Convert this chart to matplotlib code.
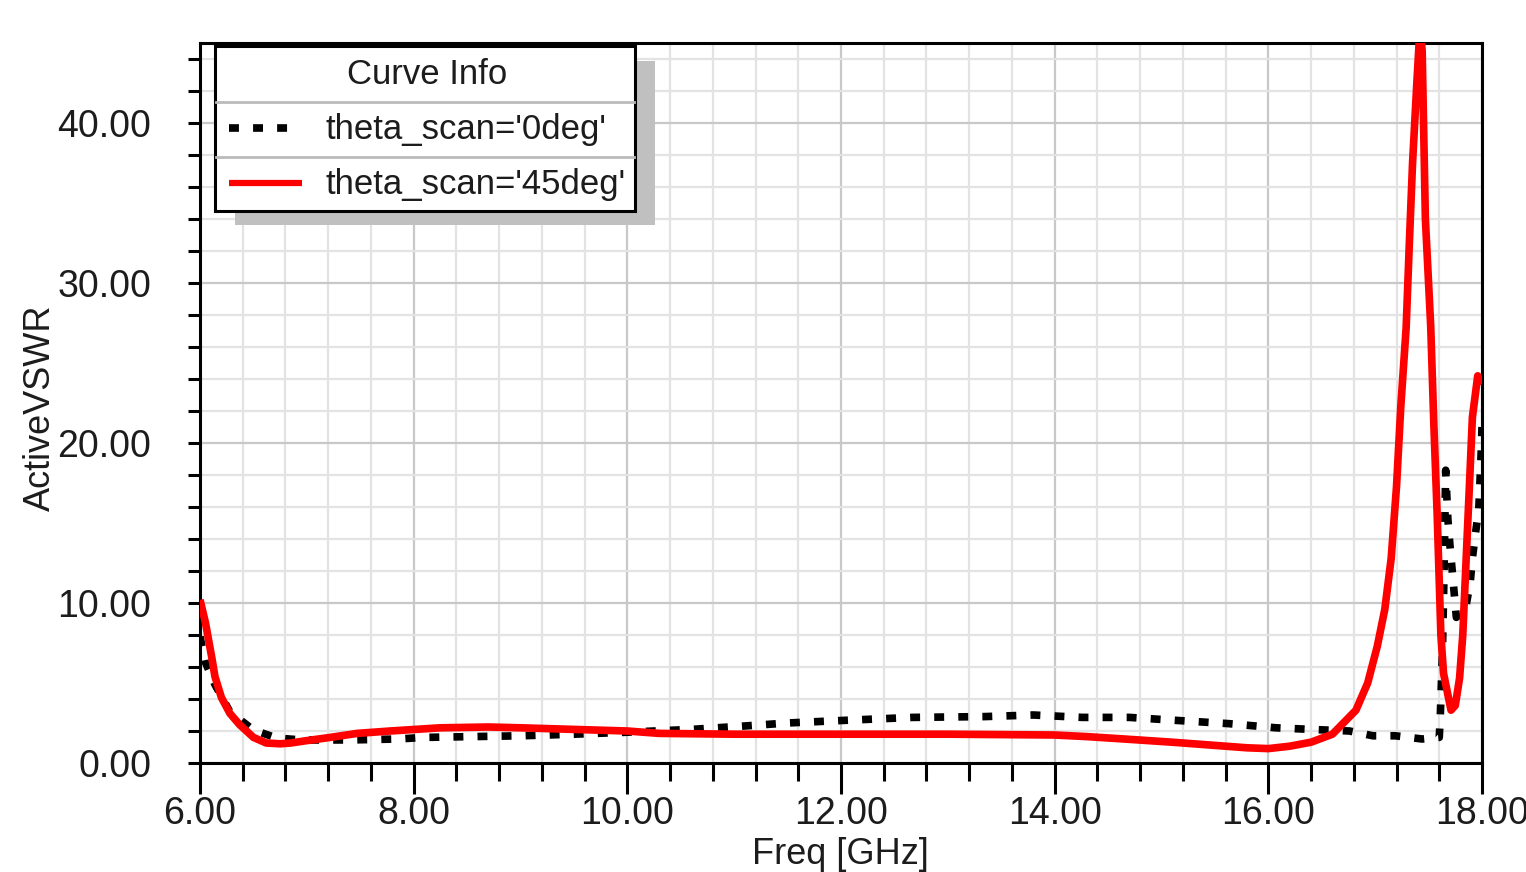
import matplotlib
matplotlib.use("Agg")
import matplotlib.pyplot as plt
from matplotlib.patches import Rectangle
from matplotlib.lines import Line2D
from matplotlib.ticker import MultipleLocator, FormatStrFormatter

plt.rcParams['font.family'] = ['Liberation Sans', 'DejaVu Sans']

# ---------------- data ----------------
freq_0deg = [6.0, 6.05, 6.14, 6.28, 6.5, 6.72, 6.95, 7.4, 7.85, 8.1, 8.55, 9.0, 9.5,
             9.91, 10.6, 11.07, 11.5, 11.98, 12.67, 13.34, 13.8, 14.26, 14.7, 15.17,
             15.63, 16.07, 16.4, 16.76, 16.98, 17.19, 17.44, 17.6, 17.61, 17.63,
             17.645, 17.66, 17.68, 17.70, 17.72, 17.74, 17.76, 17.85, 17.89, 17.91,
             17.94, 17.97, 17.99, 18.0]
vswr_0deg = [7.9, 6.3, 4.9, 3.2, 2.06, 1.56, 1.44, 1.44, 1.5, 1.6, 1.65, 1.7, 1.8,
             1.9, 2.1, 2.3, 2.5, 2.65, 2.85, 2.9, 3.0, 2.85, 2.85, 2.65,
             2.46, 2.2, 2.1, 2.0, 1.7, 1.7, 1.5, 1.6, 3.0, 7.0,
             12.0, 18.3, 15.3, 13.6, 12.1, 10.6, 9.1, 9.8, 11.3, 12.8,
             14.4, 15.9, 19.0, 21.0]

freq_45deg = [6.0, 6.05, 6.08, 6.11, 6.14, 6.2, 6.28, 6.37, 6.5, 6.62, 6.75, 6.85,
              7.0, 7.22, 7.47, 7.78, 8.25, 8.7, 9.0, 9.5, 10.0, 10.3, 11.0, 12.0,
              13.0, 14.0, 14.3, 14.65, 15.1, 15.5, 15.8, 16.0, 16.2, 16.4, 16.6,
              16.82, 16.93, 17.02, 17.09, 17.15, 17.2, 17.24, 17.29, 17.32, 17.35,
              17.39, 17.42, 17.44, 17.45, 17.47, 17.52, 17.55, 17.58, 17.6, 17.615,
              17.64, 17.71, 17.75, 17.79, 17.82, 17.85, 17.88, 17.91, 17.96, 18.0]
vswr_45deg = [10.2, 8.8, 7.7, 6.6, 5.4, 4.1, 3.1, 2.4, 1.6, 1.25, 1.2, 1.25,
              1.4, 1.6, 1.85, 2.0, 2.2, 2.25, 2.2, 2.1, 2.0, 1.85, 1.8, 1.8,
              1.8, 1.75, 1.65, 1.5, 1.3, 1.1, 0.95, 0.9, 1.05, 1.3, 1.8,
              3.3, 5.0, 7.3, 9.6, 12.8, 17.3, 22.3, 27.2, 32.5, 37.5,
              42.5, 46.0, 44.5, 41.0, 34.0, 27.3, 21.0, 15.6, 11.3, 8.0,
              5.6, 3.3, 3.6, 5.3, 8.0, 12.5, 17.0, 21.6, 24.2, 23.7]

series_labels = ["theta_scan='0deg'", "theta_scan='45deg'"]
x_label = "Freq [GHz]"
y_label = "ActiveVSWR"
legend_title = "Curve Info"

# ---------------- figure ----------------
W, H = 1526, 872
fig = plt.figure(figsize=(W / 100, H / 100), dpi=100)
fig.patch.set_facecolor('white')

def fx(px):
    return px / W

def fy(py):
    return 1 - py / H

ax = fig.add_axes([fx(200), fy(763), fx(1482) - fx(200), fy(43) - fy(763)])
ax.set_xlim(6, 18)
ax.set_ylim(0, 45)

ax.xaxis.set_major_locator(MultipleLocator(2))
ax.xaxis.set_minor_locator(MultipleLocator(0.4))
ax.yaxis.set_major_locator(MultipleLocator(10))
ax.yaxis.set_minor_locator(MultipleLocator(2))
ax.xaxis.set_major_formatter(FormatStrFormatter('%.2f'))
ax.yaxis.set_major_formatter(FormatStrFormatter('%.2f'))

ax.grid(which='major', color='#c8c8c8', linewidth=1.6, zorder=0)
ax.grid(which='minor', color='#e3e3e3', linewidth=1.6, zorder=0)
ax.set_axisbelow(True)

for s in ax.spines.values():
    s.set_linewidth(2.2)
    s.set_color('black')

txt_color = '#1c1c1c'
ax.tick_params(axis='x', which='major', length=22, width=2.2, direction='out',
               pad=2, labelsize=27, labelcolor=txt_color)
ax.tick_params(axis='x', which='minor', length=13, width=2.2, direction='out')
ax.tick_params(axis='y', which='both', length=9, width=2.2, direction='out')
ax.tick_params(axis='y', which='major', pad=26, labelsize=27, labelcolor=txt_color)

lw = 5.5
ax.plot(freq_0deg, vswr_0deg, color='black', linewidth=lw,
        linestyle=(0, (1.3, 1.85)), dash_capstyle='butt', zorder=3,
        solid_joinstyle='miter')
ax.plot(freq_45deg, vswr_45deg, color='#ff0000', linewidth=lw,
        solid_capstyle='butt', zorder=4)

fig.text(fx(40), fy(408), y_label, rotation=90, ha='center', va='center',
         fontsize=26, color=txt_color)
fig.text(fx(840), fy(864), x_label, ha='center', va='baseline',
         fontsize=26, color=txt_color)

# ---------------- legend (drawn manually, HFSS style) ----------------
shadow = Rectangle((fx(235), fy(225)), fx(655) - fx(235), fy(61) - fy(225),
                   transform=fig.transFigure, facecolor='#c0c0c0',
                   edgecolor='none', zorder=10)
box = Rectangle((fx(215), fy(211)), fx(635) - fx(215), fy(46) - fy(211),
                transform=fig.transFigure, facecolor='white',
                edgecolor='black', linewidth=2.2, zorder=11)
fig.add_artist(shadow)
fig.add_artist(box)
for yy in (102, 157):
    fig.add_artist(Line2D([fx(216), fx(634)], [fy(yy), fy(yy)],
                          transform=fig.transFigure, color='#bbbbbb',
                          linewidth=2.0, zorder=12))
fig.text(fx(427), fy(74), legend_title, ha='center', va='center',
         fontsize=25, color=txt_color, zorder=13)
fig.add_artist(Line2D([fx(229), fx(301)], [fy(128), fy(128)],
                      transform=fig.transFigure, color='black', linewidth=lw,
                      linestyle=(0, (1.3, 1.85)), dash_capstyle='butt', zorder=13))
fig.add_artist(Line2D([fx(229), fx(302)], [fy(183), fy(183)],
                      transform=fig.transFigure, color='#ff0000', linewidth=4.5,
                      solid_capstyle='butt', zorder=13))
fig.text(fx(326), fy(129), series_labels[0], ha='left', va='center',
         fontsize=25, color=txt_color, zorder=13)
fig.text(fx(326), fy(184), series_labels[1], ha='left', va='center',
         fontsize=25, color=txt_color, zorder=13)

fig.savefig('out.png', dpi=100)
